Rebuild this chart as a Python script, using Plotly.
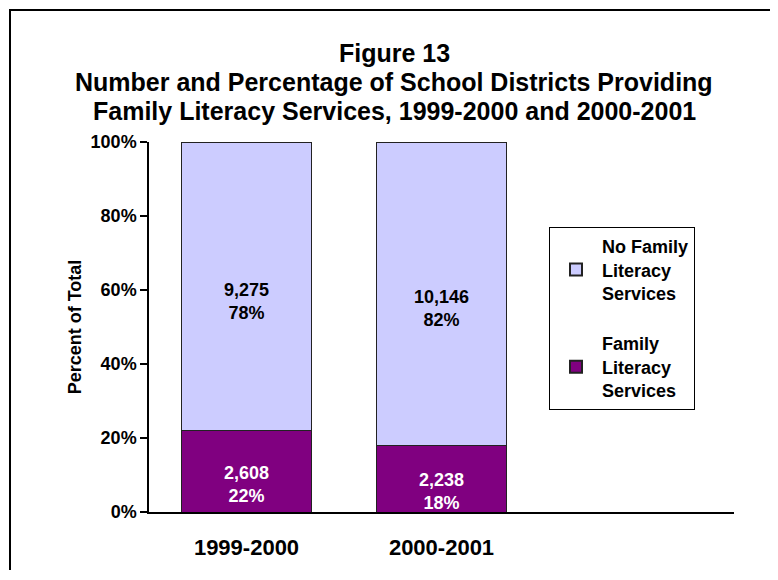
import plotly.graph_objects as go

categories = ["1999-2000", "2000-2001"]
no_fl_counts = [9275, 10146]
no_fl_pct = [78, 82]
fl_counts = [2608, 2238]
fl_pct = [22, 18]
y_ticks = [0, 20, 40, 60, 80, 100]
y_tick_labels = ["0%", "20%", "40%", "60%", "80%", "100%"]
title_lines = [
    "Figure 13",
    "Number and Percentage of School Districts Providing",
    "Family Literacy Services, 1999-2000 and 2000-2001",
]

FONT = "Liberation Sans, Arial, sans-serif"

fig = go.Figure()
fig.add_trace(go.Bar(
    x=categories, y=fl_pct, name="Family<br>Literacy<br>Services",
    legendgroup="a", legendrank=2,
    marker=dict(color="#800080", line=dict(color="#222222", width=1)),
    hoverinfo="skip",
))
fig.add_trace(go.Bar(
    x=categories, y=no_fl_pct, name="No Family<br>Literacy<br>Services",
    legendgroup="b", legendrank=1,
    marker=dict(color="#CCCCFF", line=dict(color="#222222", width=1)),
    hoverinfo="skip",
))

# page is offset by the browser's default 8px body margin (on every side)
OFF = 8
W, H = 778 - 2 * OFF, 580 - 2 * OFF
PX0, PX1, PY0, PY1 = 149, 734, 142, 512  # plot area in screen pixels
L, T = PX0 - OFF, PY0 - OFF
R, B = W - (PX1 - OFF), H - (PY1 - OFF)

def px_x(p):
    return (p - PX0) / (PX1 - PX0)

def px_y(p):
    return (PY1 - p) / (PY1 - PY0)

annotations = []
for line, yc in zip(title_lines, [53, 82, 111]):
    annotations.append(dict(
        text=line, xref="paper", yref="paper", x=px_x(394), y=px_y(yc),
        xanchor="center", yanchor="middle", showarrow=False,
        font=dict(size=25, family=FONT, weight="bold", color="black"),
    ))

# segment labels, placed at the middle of each stacked segment
for cat, fc, fp, nc, np_ in zip(categories, fl_counts, fl_pct, no_fl_counts, no_fl_pct):
    annotations.append(dict(
        text=f"{fc:,}<br>{fp}%", x=cat, y=fp / 2, xref="x", yref="y",
        showarrow=False, yshift=-13,
        font=dict(size=18, family=FONT, weight="bold", color="white"),
    ))
    annotations.append(dict(
        text=f"{nc:,}<br>{np_}%", x=cat, y=fp + np_ / 2, xref="x", yref="y",
        showarrow=False, yshift=-15,
        font=dict(size=18, family=FONT, weight="bold", color="black"),
    ))

fig.update_layout(
    width=W, height=H,
    margin=dict(l=L, r=R, t=T, b=B, autoexpand=False),
    barmode="stack", bargap=1/3,
    paper_bgcolor="white", plot_bgcolor="white",
    font=dict(family=FONT, color="black"),
    annotations=annotations,
    xaxis=dict(
        type="category", range=[-0.5, 2.5],
        showline=True, linecolor="black", linewidth=1.5,
        ticks="", showgrid=False, zeroline=False,
        tickfont=dict(size=22, family=FONT, weight="bold", color="black"),
        ticklabelstandoff=15,
    ),
    yaxis=dict(
        range=[0, 100], tickvals=y_ticks, ticktext=y_tick_labels,
        showline=True, linecolor="black", linewidth=1.5,
        ticks="outside", ticklen=7, tickcolor="black", tickwidth=1.5,
        showgrid=False, zeroline=False,
        tickfont=dict(size=18, family=FONT, weight="bold", color="black"),
        title=dict(text="Percent of Total", standoff=4,
                   font=dict(size=18, family=FONT, weight="bold", color="black")),
    ),
    legend=dict(
        x=px_x(549), y=px_y(227), xanchor="left", yanchor="top",
        traceorder="grouped", tracegroupgap=24,
        bgcolor="white", bordercolor="black", borderwidth=1,
        font=dict(size=18, family=FONT, weight="bold", color="black"),
        itemsizing="constant", itemwidth=42,
    ),
    showlegend=True,
    shapes=[
        dict(type="path", xref="paper", yref="paper",
             path=f"M {px_x(10)},{px_y(570)} L {px_x(10)},{px_y(10)} L {px_x(776)},{px_y(10)}",
             line=dict(color="black", width=2), layer="below"),
    ],
)

fig.write_html("out.html")
